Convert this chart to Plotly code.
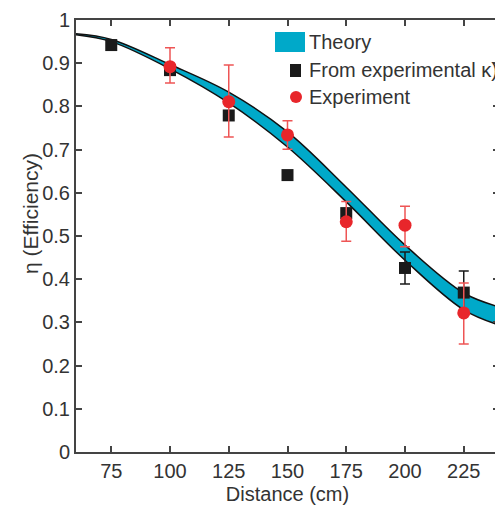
import plotly.graph_objects as go

# Theory band (upper / lower edges)
theory_x = [60, 75, 100, 125, 150, 175, 200, 225, 240]
theory_upper = [0.968, 0.955, 0.897, 0.833, 0.741, 0.613, 0.479, 0.368, 0.336]
theory_lower = [0.966, 0.950, 0.887, 0.808, 0.706, 0.579, 0.444, 0.329, 0.294]

# From experimental kappa (squares)
kappa_x = [75, 100, 125, 150, 175, 200, 225]
kappa_y = [0.942, 0.884, 0.779, 0.641, 0.553, 0.426, 0.369]
kappa_err = [0, 0, 0, 0, 0, 0.037, 0.05]

# Experiment (red circles)
exp_x = [100, 125, 150, 175, 200, 225]
exp_y = [0.892, 0.811, 0.734, 0.533, 0.525, 0.322]
exp_err_plus = [0.044, 0.085, 0.033, 0.047, 0.044, 0.069]
exp_err_minus = [0.038, 0.082, 0.033, 0.045, 0.050, 0.072]

x_ticks = [75, 100, 125, 150, 175, 200, 225]
y_ticks = [0, 0.1, 0.2, 0.3, 0.4, 0.5, 0.6, 0.7, 0.8, 0.9, 1]
y_ticktext = ["0", "0.1", "0.2", "0.3", "0.4", "0.5", "0.6", "0.7", "0.8", "0.9", "1"]
legend_labels = ["Theory", "From experimental κ)", "Experiment"]
y_title = "η (Efficiency)"
x_title = "Distance (cm)"

FONT = "Liberation Sans, Arial, sans-serif"
CYAN = "#00A9C9"
RED = "#E8262B"
OFF = 8  # page body margin
W, H = 503 - OFF, 515 - OFF
ML, MR, MT, MB = 76 - OFF, 4, 20 - OFF, 63
PW, PH = W - ML - MR, H - MT - MB


def px(xp):
    # page pixel -> paper fraction
    return (xp - OFF - ML) / PW


def py(yp):
    return (H - MB - (yp - OFF)) / PH


fig = go.Figure()
fig.add_trace(go.Scatter(
    x=theory_x, y=theory_lower, mode="lines", line=dict(color="#111", width=1.5, shape="spline"),
    showlegend=False, hoverinfo="skip"))
fig.add_trace(go.Scatter(
    x=theory_x, y=theory_upper, mode="lines", line=dict(color="#111", width=1.5, shape="spline"),
    fill="tonexty", fillcolor=CYAN, name=legend_labels[0], showlegend=False))
fig.add_trace(go.Scatter(
    x=kappa_x, y=kappa_y, mode="markers", name=legend_labels[1], showlegend=False,
    marker=dict(symbol="square", size=12, color="#1a1a1a"),
    error_y=dict(type="data", array=kappa_err, color="#1a1a1a", thickness=1.5, width=5)))
fig.add_trace(go.Scatter(
    x=exp_x, y=exp_y, mode="markers", name=legend_labels[2], showlegend=False,
    marker=dict(symbol="circle", size=13, color=RED),
    error_y=dict(type="data", array=exp_err_plus, arrayminus=exp_err_minus,
                 color="#EE5555", thickness=1.5, width=5)))

# Legend drawn manually (swatches + labels)
shapes = [
    dict(type="rect", xref="paper", yref="paper", x0=px(275), x1=px(305), y0=py(52), y1=py(32),
         fillcolor=CYAN, line=dict(width=0)),
    dict(type="rect", xref="paper", yref="paper", x0=px(290), x1=px(301), y0=py(77), y1=py(64),
         fillcolor="#1a1a1a", line=dict(width=0)),
    dict(type="circle", xref="paper", yref="paper", x0=px(290), x1=px(302), y0=py(103), y1=py(91),
         fillcolor=RED, line=dict(width=0)),
]
annotations = []
for label, yc in zip(legend_labels, [42, 70, 97]):
    annotations.append(dict(xref="paper", yref="paper", x=px(307), y=py(yc), text=label,
                            showarrow=False, xanchor="left", yanchor="middle",
                            font=dict(family=FONT, size=20, color="#333")))
# y-axis title
annotations.append(dict(xref="paper", yref="paper", x=px(30), y=py(214), text=y_title,
                        textangle=-90, showarrow=False, xanchor="center", yanchor="middle",
                        font=dict(family=FONT, size=21, color="#333")))

axis_common = dict(showgrid=False, zeroline=False, showline=True, linecolor="#444", linewidth=2,
                   mirror="ticks", ticks="inside", ticklen=6, tickwidth=1.5, tickcolor="#444",
                   automargin=False,
                   tickfont=dict(family=FONT, size=20, color="#333"))
fig.update_xaxes(range=[60, 240], tickvals=x_ticks,
                 title=dict(text=x_title, font=dict(family=FONT, size=20, color="#333"), standoff=6),
                 **axis_common)
fig.update_yaxes(range=[0, 1], tickvals=y_ticks, ticktext=y_ticktext, **axis_common)

fig.update_layout(
    width=W, height=H,
    margin=dict(l=ML, r=MR, t=MT, b=MB),
    plot_bgcolor="white", paper_bgcolor="white",
    font=dict(family=FONT, size=20, color="#333"),
    showlegend=False,
    shapes=shapes, annotations=annotations,
)

fig.write_html("out.html")
